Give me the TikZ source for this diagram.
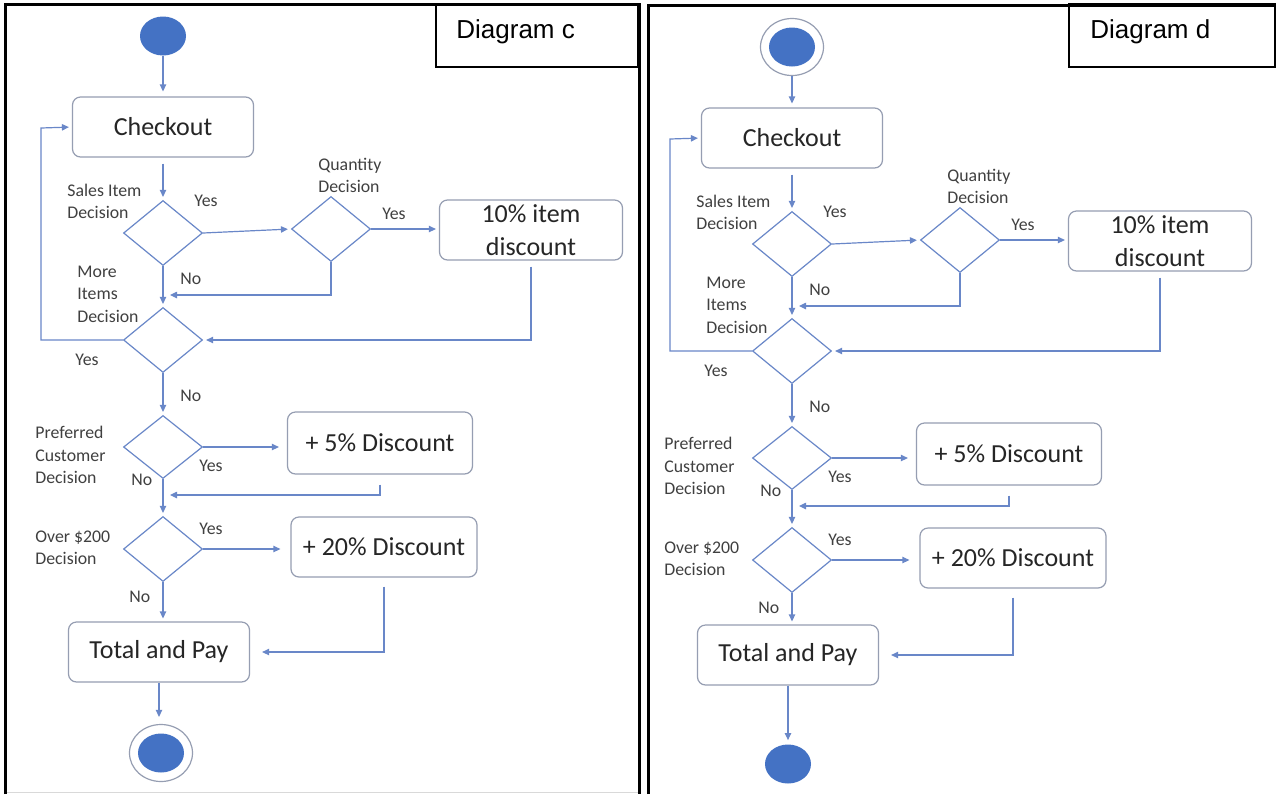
\documentclass[tikz,border=0pt]{standalone}
\usepackage{fontspec}
\setmainfont{Carlito}
\newfontfamily\arialfont{Liberation Sans}
\usetikzlibrary{shapes.geometric,arrows.meta}
\definecolor{flowblue}{RGB}{105,135,200}
\definecolor{dotblue}{RGB}{68,114,196}
\definecolor{boxgrey}{RGB}{150,158,178}
\definecolor{textdark}{RGB}{38,38,38}
\definecolor{tagtext}{RGB}{64,64,64}
\newcommand\boxfont{\fontsize{13}{16.5}\selectfont}
\newcommand\tagfont{\fontsize{8.9}{11.2}\selectfont}
\tikzstyle{actbox} = [draw=boxgrey, line width=0.6pt, rounded corners=4pt, fill=white,
    inner sep=0pt, minimum width=90.5pt, minimum height=30pt, font=\boxfont,
    text=textdark, align=center]
\tikzstyle{decision} = [diamond, draw=flowblue, line width=0.6pt, inner sep=0pt,
    minimum width=39.5pt, minimum height=32.5pt]
\tikzstyle{flowline} = [draw=flowblue, line width=0.6pt,
    -{Triangle[length=3.5pt,width=3.2pt]}, shorten >=1.5pt]
\tikzstyle{decnote} = [font=\tagfont, text=tagtext, align=left, anchor=west, inner sep=0pt]
\tikzstyle{fulldot} = [ellipse, fill=dotblue, inner sep=0pt, minimum width=23pt, minimum height=19.5pt]
\tikzstyle{ringdot} = [ellipse, draw=boxgrey, line width=0.6pt, inner sep=0pt,
    minimum width=31.5pt, minimum height=28.5pt]
\tikzstyle{panelline} = [draw=black, line width=1.5pt]
\tikzstyle{titleline} = [draw=black, line width=1pt]
\tikzstyle{titletext} = [anchor=base west, inner sep=0pt, font=\arialfont\fontsize{13}{15}\selectfont]

% common part of one checkout flow: #1 = name prefix, #2 = y of the pay box
\newcommand\shopflow[2]{%
  \node[actbox] (#1chk) at (163,127) {Checkout};
  \node[decision] (#1sale) at (163,233) {};
  \node[decision] (#1qty) at (331,229) {};
  \node[actbox, minimum width=91.5pt] (#1ten) at (531,230) {10\% item\\discount};
  \node[decision] (#1more) at (163,340) {};
  \node[decision, minimum height=31.5pt] (#1pref) at (163,447) {};
  \node[actbox, minimum width=92.5pt, minimum height=31pt] (#1five) at (380,443) {+ 5\% Discount};
  \node[decision] (#1over) at (163,549) {};
  \node[actbox, minimum width=93pt] (#1twenty) at (384,547) {+ 20\% Discount};
  \node[actbox] (#1pay) at (159,#2) {Total and Pay};
  % labels
  \node[decnote] (#1saletag) at (67,201.5) {Sales Item\\Decision};
  \node[decnote] (#1saleyes) at (194,201) {Yes};
  \node[decnote] (#1qtytag) at (318,175.5) {Quantity\\Decision};
  \node[decnote] (#1qtyyes) at (382,214) {Yes};
  \node[decnote] (#1saleno) at (180,279) {No};
  \node[decnote] (#1moretag) at (77,294) {More\\Items\\Decision};
  \node[decnote] (#1moreyes) at (75,360) {Yes};
  \node[decnote] (#1moreno) at (180,396) {No};
  \node[decnote] (#1preftag) at (35,455) {Preferred\\Customer\\Decision};
  \node[decnote] (#1prefyes) at (199,466) {Yes};
  \node[decnote] (#1prefno) at (131,480) {No};
  \node[decnote] (#1overtag) at (35,548) {Over \$200\\Decision};
  \node[decnote] (#1overyes) at (199,529) {Yes};
  \node[decnote] (#1overno) at (129,597) {No};
  % connectors
  \coordinate (#1loop) at (41,128);
  \coordinate (#1j1) at (167,295);
  \coordinate (#1j2) at (167,495);
  \draw[flowline, shorten <=3pt] (#1chk) -- (#1sale);
  \draw[flowline] (#1sale.east) -- (#1qty.west);
  \draw[flowline] (#1qty.east) -- (#1ten.west |- #1qty.east);
  \draw[flowline] (#1sale) -- (#1more);
  \draw[flowline] (#1qty.south) |- (#1j1);
  \draw[flowline, shorten <=3pt] (#1ten.south) |- (#1more.east);
  \draw[flowline] (#1more.west) -| (#1loop) -- (#1chk.west);
  \draw[flowline] (#1more.south) -- (#1pref.north);
  \draw[flowline, shorten >=4pt] (#1pref.east) -- (#1pref.east -| #1five.west);
  \draw[flowline, shorten <=5pt] (#1five.south) |- (#1j2);
  \draw[flowline] (#1pref.south) -- (#1over.north);
  \draw[flowline, shorten >=5pt] (#1over.east) -- (#1over.east -| #1twenty.west);
  \draw[flowline] (#1over.south) -- (#1over.south |- #1pay.north);
  \draw[flowline, shorten <=4.5pt, shorten >=6pt] (#1twenty.south) |- (#1pay.east);
}

\begin{document}
\begin{tikzpicture}[x=0.5pt, y=-0.5pt]
  \useasboundingbox (0,0) rectangle (1276,794);
  \fill[white] (0,0) rectangle (1276,794);
  % frames
  \draw[panelline] (5,794) -- (5,4) -- (639,4) -- (639,794);
  \draw[panelline] (648,794) -- (648,5) -- (1277,5);
  \draw[gray!30, line width=0.5pt] (7,792.5) -- (638,792.5);
  \draw[titleline] (436,4) rectangle (638,67);
  \draw[titleline] (1069,4) rectangle (1275,67);
  \node[titletext] (titlec) at (456,38) {Diagram c};
  \node[titletext] (titled) at (1090,38) {Diagram d};

  % diagram c
  \begin{scope}
    \shopflow{c}{652}
    \node[fulldot] (cstart) at (163,36) {};
    \node[ringdot] (cend) at (161,753) {};
    \node[fulldot] (cenddot) at (161,753) {};
    \draw[flowline, shorten >=2.5pt] (cstart) -- (cchk);
    \draw[flowline, shorten >=3.5pt] (cpay.south) -- (cpay.south |- cend.north);
  \end{scope}

  % diagram d
  \begin{scope}[shift={(629,11)}]
    \shopflow{d}{644}
    \node[ringdot] (dstart) at (163,36) {};
    \node[fulldot] (dstartdot) at (163,36) {};
    \node[fulldot] (dend) at (159,753) {};
    \draw[flowline, shorten >=2pt] (dstart) -- (dchk);
    \draw[flowline, shorten >=2pt] (dpay.south) -- (dend);
  \end{scope}
\end{tikzpicture}
\end{document}
